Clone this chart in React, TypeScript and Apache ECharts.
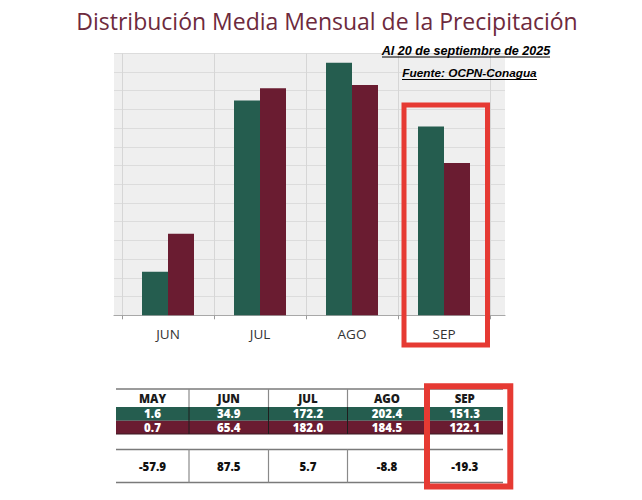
import React, { useEffect, useRef } from "react";
import * as echarts from "echarts";

// ---- Data ----
const titleText = "Distribución Media Mensual de la Precipitación";
const noteDate = "Al 20 de septiembre de 2025";
const noteSource = "Fuente: OCPN-Conagua";

const tableMonths = ["MAY", "JUN", "JUL", "AGO", "SEP"];
const normalValues = [1.6, 34.9, 172.2, 202.4, 151.3]; // green row (normal)
const values2025 = [0.7, 65.4, 182.0, 184.5, 122.1]; // maroon row (2025)
const anomalyPct = [-57.9, 87.5, 5.7, -8.8, -19.3]; // anomaly (%)

const chartMonths = ["JUN", "JUL", "AGO", "SEP"];
const yMin = 0;
const yMax = 210;
const yInterval = 15;

// ---- Styles ----
const GREEN = "#255d4f";
const MAROON = "#6a1c31";
const RED = "#e63a33";
const FONT = "Open Sans";

export default function App() {
  const ref = useRef<HTMLDivElement>(null);

  useEffect(() => {
    document.body.style.margin = "0";
    if (!ref.current) return;
    const chart = echarts.init(ref.current, undefined, { renderer: "svg" });

    const chartNormal = chartMonths.map((m) => normalValues[tableMonths.indexOf(m)]);
    const chart2025 = chartMonths.map((m) => values2025[tableMonths.indexOf(m)]);

    // table geometry
    const colEdges = [116, 189, 268.5, 347.5, 426.5, 503];
    const hdrTop = 389, hdrBot = 407, grnBot = 420.7, redBot = 434;
    const anTop = 449.5, anBot = 482.5;
    const tableEls: any[] = [];
    const centers = colEdges.slice(0, -1).map((e, i) => (e + colEdges[i + 1]) / 2);
    // colored rows
    tableEls.push({ type: "rect", shape: { x: colEdges[0], y: hdrBot, width: colEdges[5] - colEdges[0], height: grnBot - hdrBot }, style: { fill: GREEN } });
    tableEls.push({ type: "rect", shape: { x: colEdges[0], y: grnBot, width: colEdges[5] - colEdges[0], height: redBot - grnBot }, style: { fill: MAROON } });
    // horizontal lines
    const hLine = (y: number, color: string, w: number) => ({
      type: "line", shape: { x1: colEdges[0], y1: y, x2: colEdges[5], y2: y }, style: { stroke: color, lineWidth: w },
    });
    tableEls.push(hLine(hdrTop, "#7a7a7a", 1.5));
    tableEls.push(hLine(redBot, "#3a1a22", 1));
    tableEls.push(hLine(anTop, "#7a7a7a", 1.5));
    tableEls.push(hLine(anBot, "#7a7a7a", 1.5));
    // vertical separators
    colEdges.slice(1, -1).forEach((x) => {
      tableEls.push({ type: "line", shape: { x1: x, y1: hdrTop, x2: x, y2: hdrBot }, style: { stroke: "#8a8a8a", lineWidth: 1.2 } });
      tableEls.push({ type: "line", shape: { x1: x, y1: hdrBot, x2: x, y2: redBot }, style: { stroke: "#1e1e1e", lineWidth: 1 } });
      tableEls.push({ type: "line", shape: { x1: x, y1: anTop, x2: x, y2: anBot }, style: { stroke: "#8a8a8a", lineWidth: 1.2 } });
    });
    const cellText = (x: number, y: number, t: string, color: string) => ({
      type: "text",
      x, y,
      style: { text: t, fill: color, fontFamily: FONT, fontWeight: 800, fontSize: 11.5, align: "center", verticalAlign: "middle" },
    });
    tableMonths.forEach((m, i) => {
      tableEls.push(cellText(centers[i], (hdrTop + hdrBot) / 2 + 0.5, m, "#1a1a1a"));
      tableEls.push(cellText(centers[i], (hdrBot + grnBot) / 2, normalValues[i].toFixed(1), "#ffffff"));
      tableEls.push(cellText(centers[i], (grnBot + redBot) / 2, values2025[i].toFixed(1), "#ffffff"));
      tableEls.push(cellText(centers[i], (anTop + anBot) / 2, anomalyPct[i].toFixed(1), "#111111"));
    });

    const noteStyle = {
      fill: "#000",
      fontFamily: "Liberation Sans",
      fontWeight: "bold",
      fontStyle: "italic",
      align: "center",
      verticalAlign: "middle",
    };

    const option: any = {
      animation: false,
      backgroundColor: "#ffffff",
      textStyle: { fontFamily: FONT },
      grid: [
        { left: 122, top: 53.3, width: 368, height: 262, show: false },
        { left: 114, top: 53.3, width: 391, height: 262, show: true, backgroundColor: "#efefef", borderWidth: 0 },
      ],
      xAxis: [
        {
          type: "category",
          gridIndex: 0,
          data: chartMonths,
          boundaryGap: true,
          axisLine: { show: false },
          axisTick: { show: true, length: 4, lineStyle: { color: "#9a9a9a" } },
          axisLabel: { color: "#333333", fontSize: 13.5, margin: 12, fontFamily: FONT },
          splitLine: { show: true, lineStyle: { color: "#d6d6d6", width: 1 } },
          z: 3,
        },
        {
          type: "value",
          gridIndex: 1,
          min: 0,
          max: 1,
          axisLine: { show: true, onZero: false, lineStyle: { color: "#a8a8a8", width: 1.2 } },
          axisTick: { show: false },
          axisLabel: { show: false },
          splitLine: { show: false },
        },
      ],
      yAxis: [
        {
          type: "value",
          gridIndex: 0,
          min: yMin,
          max: yMax,
          interval: yInterval,
          axisLine: { show: false },
          axisTick: { show: false },
          axisLabel: { show: false },
          splitLine: { show: false },
        },
        {
          type: "value",
          gridIndex: 1,
          min: yMin,
          max: yMax,
          interval: yInterval,
          axisLine: { show: false },
          axisTick: { show: false },
          axisLabel: { show: false },
          splitLine: { show: true, lineStyle: { color: "#dcdcdc", width: 1 } },
        },
      ],
      series: [
        {
          name: "Normal",
          type: "bar",
          xAxisIndex: 0,
          yAxisIndex: 0,
          data: chartNormal,
          barWidth: 26,
          barGap: "0%",
          itemStyle: { color: GREEN },
          z: 5,
        },
        {
          name: "2025",
          type: "bar",
          xAxisIndex: 0,
          yAxisIndex: 0,
          data: chart2025,
          barWidth: 26,
          barGap: "0%",
          itemStyle: { color: MAROON },
          z: 5,
        },
      ],
      graphic: [
        {
          type: "text",
          x: 327,
          y: 21,
          style: { text: titleText, fill: "#6d2a3d", fontFamily: FONT, fontSize: 23, align: "center", verticalAlign: "middle" },
        },
        {
          type: "text",
          x: 466,
          y: 50.5,
          z: 20,
          style: { ...noteStyle, text: noteDate, fontSize: 12.6 },
        },
        { type: "line", z: 20, shape: { x1: 382, y1: 57, x2: 550, y2: 57 }, style: { stroke: "#000", lineWidth: 1.2 } },
        {
          type: "text",
          x: 469.5,
          y: 73,
          z: 20,
          style: { ...noteStyle, text: noteSource, fontSize: 11.8 },
        },
        { type: "line", z: 20, shape: { x1: 402, y1: 79.5, x2: 537, y2: 79.5 }, style: { stroke: "#000", lineWidth: 1.2 } },
        { type: "group", z: 10, children: tableEls },
        {
          type: "rect",
          z: 30,
          shape: { x: 404, y: 105, width: 83.5, height: 240 },
          style: { fill: "none", stroke: RED, lineWidth: 5 },
        },
        {
          type: "rect",
          z: 30,
          shape: { x: 427, y: 386.3, width: 83.3, height: 100.2 },
          style: { fill: "none", stroke: RED, lineWidth: 6 },
        },
      ],
    };

    chart.setOption(option);
    return () => chart.dispose();
  }, []);

  return <div ref={ref} style={{ width: 642, height: 500 }} />;
}
